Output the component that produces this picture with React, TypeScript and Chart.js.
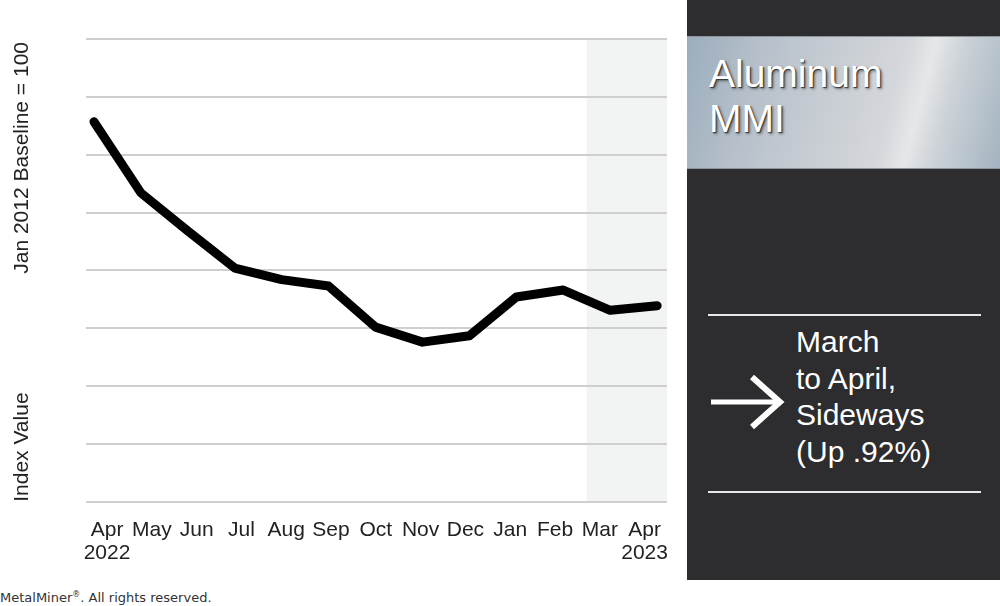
import React, { useEffect, useRef } from "react";
import { Chart, registerables } from "chart.js";

Chart.register(...registerables);

// ---- data ----
const months = ["Apr", "May", "Jun", "Jul", "Aug", "Sep", "Oct", "Nov", "Dec", "Jan", "Feb", "Mar", "Apr"];
const years = ["2022", "", "", "", "", "", "", "", "", "", "", "", "2023"];
const indexValues = [125.7, 113.4, 106.8, 100.4, 98.4, 97.3, 90.2, 87.6, 88.7, 95.4, 96.6, 93.1, 93.9];
const yMin = 60;
const yMax = 140;
const yStep = 10;
const highlightFrom = 10.5; // Mar–Apr 2023 shaded band starts between Feb and Mar
const yTitleTop = "Jan 2012 Baseline = 100";
const yTitleBottom = "Index Value";
const panelTitle = ["Aluminum", "MMI"];
const panelNote = ["March", "to April,", "Sideways", "(Up .92%)"];

const FONT = '"Liberation Sans", Arial, Helvetica, sans-serif';

const tickLabels = months.map((m, i) => (years[i] ? [m, years[i]] : m));

const shadePlugin = {
  id: "shade",
  beforeDraw(chart: any) {
    const { ctx, chartArea } = chart;
    const xs = chart.scales.x;
    const left = xs.getPixelForValue(highlightFrom);
    ctx.save();
    ctx.fillStyle = "#f2f3f3";
    ctx.fillRect(left, chartArea.top, chartArea.right - left, chartArea.bottom - chartArea.top);
    ctx.restore();
  },
};

const yTitlesPlugin = {
  id: "yTitles",
  afterDraw(chart: any) {
    const { ctx, chartArea } = chart;
    ctx.save();
    ctx.font = `21px ${FONT}`;
    ctx.fillStyle = "#222";
    ctx.textBaseline = "alphabetic";
    ctx.save();
    ctx.translate(28, chartArea.top + 3);
    ctx.rotate(-Math.PI / 2);
    ctx.textAlign = "right";
    ctx.fillText(yTitleTop, 0, 0);
    ctx.restore();
    ctx.save();
    ctx.translate(28, chartArea.bottom);
    ctx.rotate(-Math.PI / 2);
    ctx.textAlign = "left";
    ctx.fillText(yTitleBottom, 0, 0);
    ctx.restore();
    ctx.restore();
  },
};

function LineChart() {
  const ref = useRef<HTMLCanvasElement | null>(null);
  useEffect(() => {
    if (!ref.current) return;
    const chart = new Chart(ref.current, {
      type: "line",
      data: {
        datasets: [
          {
            data: indexValues.map((v, i) => ({ x: i, y: v })),
            borderColor: "#000",
            borderWidth: 9,
            pointRadius: 0,
            borderCapStyle: "round",
            borderJoinStyle: "round",
            tension: 0,
            fill: false,
          },
        ],
      },
      options: {
        animation: false,
        responsive: true,
        maintainAspectRatio: false,
        layout: { padding: { left: 86, right: 20, top: 39, bottom: 0 } },
        plugins: { legend: { display: false }, tooltip: { enabled: false } },
        scales: {
          x: { type: "linear", display: false, min: -0.17, max: 12.21 },
          x2: {
            type: "linear",
            position: "bottom",
            min: -0.47,
            max: 12.5,
            grid: { display: false, drawTicks: false },
            border: { display: false },
            afterBuildTicks: (s: any) => {
              s.ticks = months.map((_, i) => ({ value: i }));
            },
            ticks: {
              callback: (_v: any, i: number) => tickLabels[i],
              font: { family: FONT, size: 21, lineHeight: 1.1 },
              color: "#222",
              padding: 17,
              maxRotation: 0,
              minRotation: 0,
              autoSkip: false,
            },
          },
          y: {
            min: yMin,
            max: yMax,
            ticks: { display: false, stepSize: yStep },
            grid: { color: "#cfcfd3", lineWidth: 2, drawTicks: false },
            border: { display: false },
          },
        },
      } as any,
      plugins: [shadePlugin, yTitlesPlugin],
    });
    return () => chart.destroy();
  }, []);
  return <canvas ref={ref} />;
}

export default function App() {
  return (
    <div
      style={{
        position: "fixed",
        left: 0,
        top: 0,
        width: 1000,
        height: 606,
        background: "#fff",
        overflow: "hidden",
        fontFamily: FONT,
      }}
    >
      <div style={{ position: "absolute", left: 0, top: 0, width: 687, height: 582 }}>
        <LineChart />
      </div>
      <div
        style={{
          position: "absolute",
          left: 687,
          top: 0,
          width: 313,
          height: 580,
          background: "#2d2c2f",
        }}
      >
        <div
          style={{
            position: "absolute",
            left: 0,
            top: 36,
            width: 313,
            height: 133,
            background:
              "linear-gradient(105deg, #9badbc 0%, #b6c0ca 22%, #c8cdd3 45%, #d4d7db 64%, #e6e7e8 72%, #cdd3d8 80%, #a3b3c0 100%)",
            borderTop: "1px solid #8d949b",
            borderBottom: "1px solid #8d949b",
            boxSizing: "border-box",
          }}
        />
        <div
          style={{
            position: "absolute",
            left: 22,
            top: 51,
            fontSize: 39,
            lineHeight: "45px",
            color: "#fff",
            textShadow: "1px 1px 1px #333, 2px 2px 3px rgba(0,0,0,0.45)",
            whiteSpace: "nowrap",
          }}
        >
          {panelTitle.map((t, i) => (
            <div key={i}>{t}</div>
          ))}
        </div>
        <svg
          width={313}
          height={580}
          style={{ position: "absolute", left: 0, top: 0 }}
        >
          <line x1={21} y1={315} x2={294} y2={315} stroke="#e8e8e8" strokeWidth={2} />
          <line x1={21} y1={492} x2={294} y2={492} stroke="#e8e8e8" strokeWidth={2} />
          <line x1={24} y1={402} x2={92} y2={402} stroke="#fff" strokeWidth={5} />
          <polyline
            points="65,377 93,402 65,427"
            fill="none"
            stroke="#fff"
            strokeWidth={6}
            strokeLinejoin="miter"
          />
        </svg>
        <div
          style={{
            position: "absolute",
            left: 109,
            top: 324,
            fontSize: 30,
            lineHeight: "36.7px",
            color: "#fff",
            whiteSpace: "nowrap",
          }}
        >
          {panelNote.map((t, i) => (
            <div key={i}>{t}</div>
          ))}
        </div>
      </div>
      <div
        style={{
          position: "absolute",
          left: 0,
          top: 590,
          fontFamily: '"DejaVu Sans", Verdana, sans-serif',
          fontSize: 13,
          color: "#333",
          whiteSpace: "nowrap",
        }}
      >
        MetalMiner<sup style={{ fontSize: 8 }}>®</sup>. All rights reserved.
      </div>
    </div>
  );
}
